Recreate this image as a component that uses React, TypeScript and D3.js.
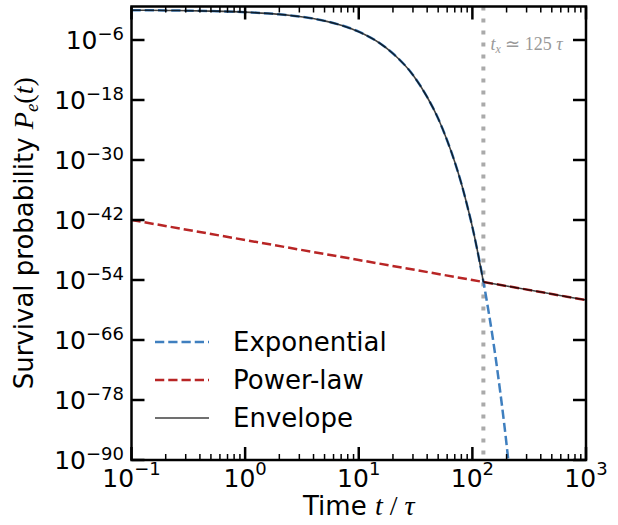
import React from "react";
import * as d3 from "d3";

// values (log10 of the survival probability)
const expoTimes = [0.1, 0.2, 0.5, 1, 2, 3, 5, 7, 10, 15, 20, 30, 40, 50, 60, 70, 80, 90, 100, 110, 125, 140, 150, 175, 190, 207];
const expoLog10 = [-0.04, -0.09, -0.22, -0.43, -0.87, -1.3, -2.17, -3.04, -4.34, -6.5, -8.7, -13.0, -17.4, -21.7, -26.1, -30.4, -34.7, -39.1, -43.4, -47.8, -54.3, -60.8, -65.1, -76.0, -82.5, -90.0];
const powerTimes = [0.1, 1, 10, 100, 125, 200, 400, 700, 1000];
const powerLog10 = [-42.0, -46.0, -50.0, -54.0, -54.4, -55.2, -56.4, -57.4, -58.0];
const crossTime = 125;

const xMajor = [-1, 0, 1, 2, 3];
const yMajor = [-6, -18, -30, -42, -54, -66, -78, -90];

const W = 618, H = 525;
const L = 131.5, R = 586, T = 6.5, B = 460;

const x = d3.scaleLog().domain([0.1, 1000]).range([L, R]);
const y = d3.scaleLog().domain([1e-90, 5]).range([B, T]);

type Pt = [number, number];
const expo: Pt[] = expoTimes.map((t, i) => [t, Math.pow(10, expoLog10[i])]);
const power: Pt[] = powerTimes.map((t, i) => [t, Math.pow(10, powerLog10[i])]);
const envelope: Pt[] = [
  ...expo.filter((d) => d[0] < crossTime),
  ...power.filter((d) => d[0] >= crossTime),
];

const curveLine = d3
  .line<Pt>()
  .x((d) => x(d[0]))
  .y((d) => y(d[1]))
  .curve(d3.curveMonotoneX);
const straight = d3
  .line<Pt>()
  .x((d) => x(d[0]))
  .y((d) => y(d[1]));

const sans = "DejaVu Sans, sans-serif";
const serif = "Liberation Serif, serif";
const blue = "#3f7fbf";
const red = "#b82525";

const minorX: number[] = [];
for (let e = -1; e < 3; e++) for (let k = 2; k <= 9; k++) minorX.push(k * Math.pow(10, e));

const sup = (v: number) => (v < 0 ? "\u2212" + Math.abs(v) : String(v));

export default function App() {
  const legend = [
    { label: "Exponential", color: blue, dash: "9.25,4", width: 2.5, op: 1 },
    { label: "Power-law", color: red, dash: "9.25,4", width: 2.5, op: 1 },
    { label: "Envelope", color: "#000", dash: "", width: 1.6, op: 0.75 },
  ];
  return (
    <svg width={W} height={H} style={{ position: "absolute", left: 0, top: 0 }}>
      <defs>
        <clipPath id="plot">
          <rect x={L} y={T} width={R - L} height={B - T} />
        </clipPath>
      </defs>
      <rect width={W} height={H} fill="#fff" />
      <g clipPath="url(#plot)">
        <line x1={x(crossTime)} x2={x(crossTime)} y1={T} y2={B} stroke="#aaa" strokeWidth={4} strokeDasharray="4,8" />
        <path d={curveLine(expo) || ""} fill="none" stroke={blue} strokeWidth={2.5} strokeDasharray="9.25,4" />
        <path d={straight(power) || ""} fill="none" stroke={red} strokeWidth={2.5} strokeDasharray="9.25,4" />
        <path d={curveLine(envelope.filter((d) => d[0] <= crossTime)) || ""} fill="none" stroke="#000" strokeOpacity={0.75} strokeWidth={1.6} />
        <path d={straight(envelope.filter((d) => d[0] >= crossTime)) || ""} fill="none" stroke="#000" strokeOpacity={0.75} strokeWidth={1.6} />
      </g>
      <text x={x(crossTime) + 7} y={50} fill="#999" fontFamily={serif} fontSize={18}>
        <tspan fontStyle="italic">t</tspan>
        <tspan fontStyle="italic" fontSize={12} dy={3}>x</tspan>
        <tspan dy={-3}> ≃ 125</tspan>
        <tspan fontStyle="italic"> τ</tspan>
      </text>

      {legend.map((d, i) => (
        <g key={d.label} transform={`translate(0,${342 + i * 38})`}>
          <line x1={155} x2={209} stroke={d.color} strokeWidth={d.width} strokeDasharray={d.dash} strokeOpacity={d.op} />
          <text x={233} y={9} fontFamily={sans} fontSize={26} fill="#000">{d.label}</text>
        </g>
      ))}

      {/* ticks */}
      <g stroke="#000">
        {xMajor.map((e) => {
          const px = x(Math.pow(10, e));
          return (
            <g key={"xm" + e} strokeWidth={2.5}>
              <line x1={px} x2={px} y1={B} y2={B - 13} />
              <line x1={px} x2={px} y1={T} y2={T + 13} />
            </g>
          );
        })}
        {minorX.map((v) => {
          const px = x(v);
          return (
            <g key={"xn" + v} strokeWidth={1.5}>
              <line x1={px} x2={px} y1={B} y2={B - 6} />
              <line x1={px} x2={px} y1={T} y2={T + 6} />
            </g>
          );
        })}
        {yMajor.map((e) => {
          const py = y(Math.pow(10, e));
          return (
            <g key={"ym" + e} strokeWidth={2.5}>
              <line x1={L} x2={L + 13} y1={py} y2={py} />
              <line x1={R} x2={R - 13} y1={py} y2={py} />
            </g>
          );
        })}
      </g>
      <rect x={L} y={T} width={R - L} height={B - T} fill="none" stroke="#000" strokeWidth={2.5} />

      {/* tick labels */}
      <g fontFamily={sans} fill="#000">
        {xMajor.map((e) => (
          <text key={"xl" + e} x={x(Math.pow(10, e))} y={487} textAnchor="middle" fontSize={25}>
            10<tspan fontSize={18} dy={-12}>{sup(e)}</tspan>
          </text>
        ))}
        {yMajor.map((e) => (
          <text key={"yl" + e} x={124} y={y(Math.pow(10, e)) + 9} textAnchor="end" fontSize={25}>
            10<tspan fontSize={18} dy={-9}>{sup(e)}</tspan>
          </text>
        ))}
      </g>

      <text x={(L + R) / 2} y={515} textAnchor="middle" fontFamily={sans} fontSize={26}>
        Time <tspan fontFamily={serif} fontStyle="italic" fontSize={28}>t</tspan>
        <tspan fontFamily={serif} fontSize={28}> / </tspan>
        <tspan fontFamily={serif} fontStyle="italic" fontSize={28}>τ</tspan>
      </text>
      <text transform={`translate(33,${(T + B) / 2}) rotate(-90)`} textAnchor="middle" fontFamily={sans} fontSize={26}>
        Survival probability{" "}
        <tspan fontFamily={serif} fontStyle="italic" fontSize={28}>P</tspan>
        <tspan fontFamily={serif} fontStyle="italic" fontSize={19} dy={5}>e</tspan>
        <tspan fontFamily={serif} fontSize={28} dy={-5}>(</tspan>
        <tspan fontFamily={serif} fontStyle="italic" fontSize={28}>t</tspan>
        <tspan fontFamily={serif} fontSize={28}>)</tspan>
      </text>
    </svg>
  );
}
